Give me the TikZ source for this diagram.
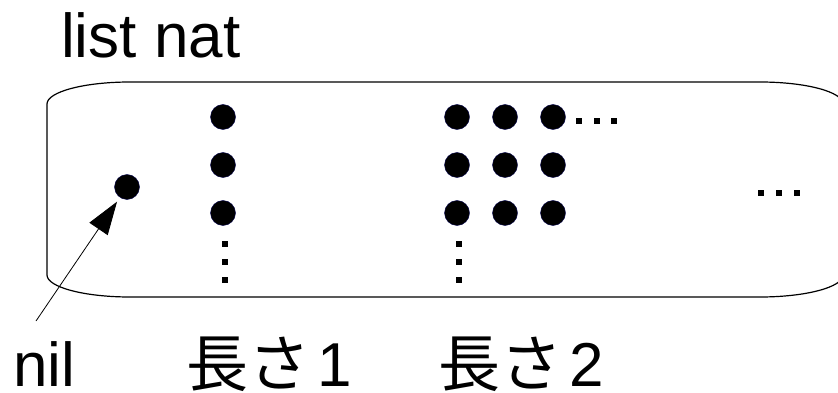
\documentclass[tikz,border=0pt]{standalone}
\usepackage{fontspec}
\setmainfont{Liberation Sans}
\newfontfamily\cjk{Noto Sans CJK JP}
\usetikzlibrary{arrows.meta}
\begin{document}
\begin{tikzpicture}[x=1pt,y=-1pt,
  bigdot/.style={circle,fill=black,draw=black!70!blue,line width=0.4pt,minimum size=25pt,inner sep=0pt},
  smalldot/.style={rectangle,fill=black,minimum size=6.5pt,inner sep=0pt},
  lbl/.style={font=\fontsize{62}{62}\selectfont,inner sep=0pt,anchor=base west}]
\useasboundingbox (0,0) rectangle (838,393);
\begin{scope}
\clip (0,0) rectangle (838,393);
\draw[line width=1.2pt] (130,82) -- (760,82)
  arc[start angle=90,end angle=0,x radius=83,y radius=-22] -- (843,275)
  arc[start angle=0,end angle=-90,x radius=83,y radius=-22] -- (130,297)
  arc[start angle=270,end angle=180,x radius=83,y radius=-22] -- (47,104)
  arc[start angle=180,end angle=90,x radius=83,y radius=-22] -- cycle;
\end{scope}
\node[lbl] (title) at (61,58) {list nat};
% nil
\node[bigdot] (nil) at (127,187) {};
% length 1
\node[bigdot] (a1) at (223,117) {};
\node[bigdot] (a2) at (223,165) {};
\node[bigdot] (a3) at (223,213) {};
\node[smalldot] (av1) at (225,244) {};
\node[smalldot] (av2) at (225,262) {};
\node[smalldot] (av3) at (225,280) {};
% length 2
\foreach \c/\x in {1/457,2/505,3/553}{
  \foreach \r/\y in {1/117,2/165,3/213}{
    \node[bigdot] (b\r\c) at (\x,\y) {};
  }
}
\node[smalldot] (bh1) at (579,121) {};
\node[smalldot] (bh2) at (597,121) {};
\node[smalldot] (bh3) at (614,121) {};
\node[smalldot] (bv1) at (459,244) {};
\node[smalldot] (bv2) at (459,262) {};
\node[smalldot] (bv3) at (459,280) {};
% more
\node[smalldot] (m1) at (761,193) {};
\node[smalldot] (m2) at (779,193) {};
\node[smalldot] (m3) at (797,193) {};
% labels
\node[lbl] (nillbl) at (13,386) {nil};
\node[lbl] (len1) at (186,386) {{\cjk 長さ}\hspace{7pt}1};
\node[lbl] (len2) at (438,386) {{\cjk 長さ}\hspace{7pt}2};
\coordinate (arrstart) at (36,321);
\draw[line width=0.8pt,-{Triangle[length=33pt,width=22pt]},shorten >=5pt] (arrstart) -- (nil);
\end{tikzpicture}
\end{document}
